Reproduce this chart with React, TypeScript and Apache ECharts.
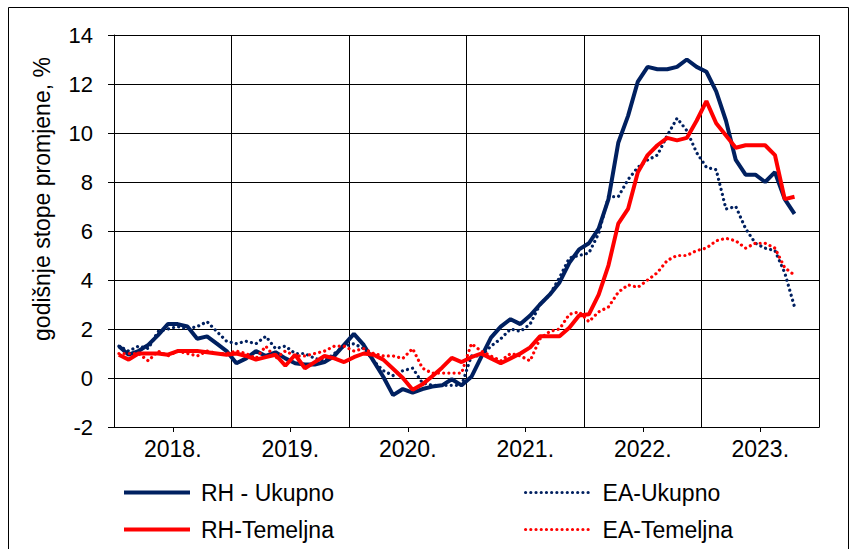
import React, { useEffect, useRef } from "react";
import * as echarts from "echarts";

const years = ["2018.", "2019.", "2020.", "2021.", "2022.", "2023."];
const months = years.flatMap((y) => Array.from({ length: 12 }, (_, m) => `${y} ${m + 1}`));

const seriesNames = ["RH - Ukupno", "EA-Ukupno", "RH-Temeljna", "EA-Temeljna"];

const rhUkupno = [
  1.3, 0.95, 1.1, 1.35, 1.75, 2.2, 2.2, 2.1, 1.6, 1.7, 1.4, 1.1,
  0.6, 0.8, 1.1, 0.9, 1.05, 0.8, 0.6, 0.55, 0.55, 0.65, 0.9, 1.35,
  1.8, 1.35, 0.7, 0.05, -0.7, -0.45, -0.6, -0.45, -0.35, -0.3, -0.05, -0.3,
  0.05, 0.85, 1.65, 2.1, 2.4, 2.2, 2.55, 3.0, 3.4, 3.9, 4.7, 5.25,
  5.5, 6.1, 7.3, 9.6, 10.7, 12.1, 12.7, 12.6, 12.6, 12.7, 13.0, 12.7,
  12.5, 11.7, 10.5, 8.9, 8.3, 8.3, 8.0, 8.4, 7.3, 6.7,
];

const eaUkupno = [
  1.3, 1.1, 1.3, 1.2, 1.9, 2.0, 2.1, 2.0, 2.1, 2.3, 1.9, 1.5,
  1.4, 1.5, 1.4, 1.7, 1.2, 1.3, 1.0, 1.0, 0.8, 0.7, 1.0, 1.3,
  1.4, 1.2, 0.7, 0.3, 0.1, 0.3, 0.4, -0.2, -0.3, -0.3, -0.3, -0.3,
  0.9, 0.9, 1.3, 1.6, 2.0, 1.9, 2.2, 3.0, 3.4, 4.1, 4.9, 5.0,
  5.1, 5.9, 7.4, 7.4, 8.1, 8.6, 8.9, 9.1, 9.9, 10.6, 10.1, 9.2,
  8.6, 8.5, 6.9, 7.0, 6.1, 5.5, 5.3, 5.2, 4.3, 2.9,
];

const rhTemeljna = [
  0.95, 0.75, 1.0, 1.0, 1.0, 0.95, 1.1, 1.1, 1.1, 1.05, 1.0, 0.95,
  1.0, 0.9, 0.75, 0.85, 0.95, 0.5, 0.95, 0.4, 0.65, 0.9, 0.8, 0.65,
  0.85, 1.0, 0.95, 0.75, 0.38, 0.0, -0.48, -0.26, 0.07, 0.42, 0.82, 0.65,
  0.85, 1.0, 0.8, 0.6, 0.8, 1.0, 1.25, 1.7, 1.7, 1.7, 2.05, 2.55,
  2.6, 3.4, 4.6, 6.3, 6.9, 8.4, 9.1, 9.5, 9.8, 9.7, 9.8, 10.5,
  11.3, 10.4, 9.9, 9.4, 9.5, 9.5, 9.5, 9.1, 7.3, 7.4,
];

const eaTemeljna = [
  1.0, 1.0, 1.0, 0.7, 1.1, 0.9, 1.1, 1.0, 0.9, 1.1, 1.0, 1.0,
  1.1, 1.0, 0.8, 1.3, 0.8, 1.1, 0.9, 0.9, 1.0, 1.1, 1.3, 1.3,
  1.1, 1.2, 1.0, 0.9, 0.9, 0.8, 1.2, 0.4, 0.2, 0.2, 0.2, 0.2,
  1.4, 1.1, 0.9, 0.7, 1.0, 0.9, 0.7, 1.6, 1.9, 2.0, 2.6, 2.7,
  2.3, 2.7, 2.9, 3.5, 3.8, 3.7, 4.0, 4.3, 4.8, 5.0, 5.0, 5.2,
  5.3, 5.6, 5.7, 5.6, 5.3, 5.5, 5.5, 5.3, 4.5, 4.2,
];

const NAVY = "#002060";
const RED = "#ff0000";
const FONT = "Liberation Sans, Arial, sans-serif";
const DOT = [0.01, 5.2];

export default function App() {
  const ref = useRef<HTMLDivElement>(null);
  useEffect(() => {
    if (!ref.current) return;
    const chart = echarts.init(ref.current, null, { renderer: "svg" });
    const solid = (color: string) => ({ color, width: 4, type: "solid" as const });
    const dotted = (color: string) => ({ color, width: 3.2, type: DOT as any, cap: "round" as const });
    const legendBase = (name: string, left: number, top: number, dottedIcon: boolean, color: string) => ({
      data: [name],
      left,
      top,
      orient: "horizontal",
      padding: 0,
      itemWidth: 66,
      itemHeight: 14,
      selectedMode: false,
      itemStyle: { opacity: 0, borderWidth: 0 },
      lineStyle: dottedIcon
        ? { type: DOT, width: 3.2, cap: "round", color }
        : { width: 4, color, type: "solid" },
      textStyle: { fontSize: 23, color: "#000", fontFamily: FONT, padding: [0, 0, 0, 6] },
    });
    chart.setOption({
      animation: false,
      textStyle: { fontFamily: FONT },
      grid: { left: 114, right: 35, top: 35, bottom: 122, containLabel: false },
      legend: [
        legendBase(seriesNames[0], 122, 481, false, NAVY),
        legendBase(seriesNames[1], 524, 481, true, NAVY),
        legendBase(seriesNames[2], 122, 518, false, RED),
        legendBase(seriesNames[3], 524, 518, true, RED),
      ],
      xAxis: [
        {
          type: "category",
          data: months,
          boundaryGap: true,
          show: false,
        },
        {
          type: "category",
          data: years,
          boundaryGap: true,
          position: "bottom",
          axisLine: { show: true, onZero: false, lineStyle: { color: "#000", width: 1 } },
          axisTick: { show: false },
          axisLabel: { fontSize: 23, color: "#000", fontFamily: FONT, margin: 10 },
          splitLine: { show: true, lineStyle: { color: "#000", width: 1 } },
        },
        {
          type: "category",
          data: years,
          boundaryGap: true,
          position: "bottom",
          axisLine: { show: true, onZero: true, lineStyle: { color: "#000", width: 1 } },
          axisTick: { show: true, alignWithLabel: true, length: 5, lineStyle: { color: "#000" } },
          axisLabel: { show: false },
          splitLine: { show: false },
        },
      ],
      yAxis: {
        type: "value",
        min: -2,
        max: 14,
        interval: 2,
        axisLine: { show: true, lineStyle: { color: "#000", width: 1 } },
        axisTick: { show: true, length: 6, lineStyle: { color: "#000" } },
        axisLabel: { fontSize: 22, color: "#000", fontFamily: FONT, margin: 21 },
        splitLine: { show: true, lineStyle: { color: "#000", width: 1 } },
      },
      graphic: [
        {
          type: "rect",
          shape: { x: 8.5, y: 7.5, width: 840, height: 600 },
          style: { fill: "none", stroke: "#000", lineWidth: 1 },
          silent: true,
        },
        {
          type: "text",
          x: 42,
          y: 199,
          rotation: Math.PI / 2,
          style: {
            text: "godišnje stope promjene, %",
            fontSize: 23,
            fontFamily: FONT,
            fill: "#000",
            textAlign: "center",
            textVerticalAlign: "middle",
          },
        },
      ],
      series: [
        { name: seriesNames[0], type: "line", xAxisIndex: 0, data: rhUkupno, symbol: "none", lineStyle: solid(NAVY), itemStyle: { color: NAVY }, z: 3 },
        { name: seriesNames[1], type: "line", xAxisIndex: 0, data: eaUkupno, symbol: "none", lineStyle: dotted(NAVY), itemStyle: { color: NAVY }, z: 4 },
        { name: seriesNames[2], type: "line", xAxisIndex: 0, data: rhTemeljna, symbol: "none", lineStyle: solid(RED), itemStyle: { color: RED }, z: 5 },
        { name: seriesNames[3], type: "line", xAxisIndex: 0, data: eaTemeljna, symbol: "none", lineStyle: dotted(RED), itemStyle: { color: RED }, z: 6 },
      ],
    });
    return () => chart.dispose();
  }, []);
  return (
    <div
      ref={ref}
      style={{ position: "fixed", left: 0, top: 0, width: 854, height: 549, background: "#fff" }}
    />
  );
}
